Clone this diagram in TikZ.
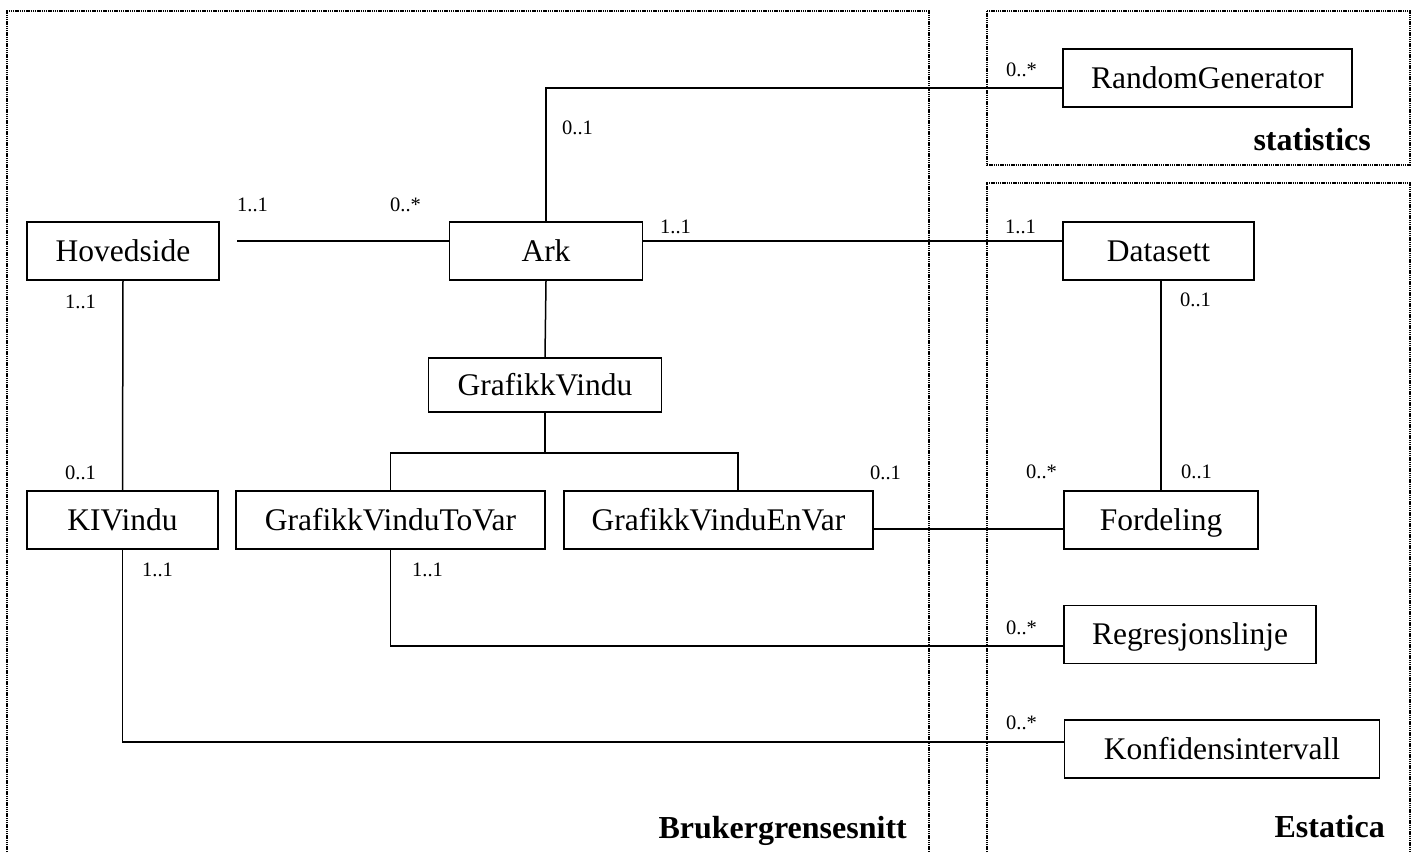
\documentclass[tikz,border=0pt]{standalone}
\usepackage{fontspec}
\setmainfont{Liberation Serif}
\begin{document}
\begin{tikzpicture}[x=1pt,y={(0,-1pt)},
  cls/.style={draw,line width=1.8pt,rectangle,minimum height=58pt,inner sep=0pt,
    text height=27pt,text depth=7pt,font=\fontsize{31.5}{36}\selectfont},
  conn/.style={line width=1.5pt},
  mult/.style={anchor=west,inner sep=0pt,font=\fontsize{20.5}{24}\selectfont},
  pkg/.style={anchor=base east,inner sep=0pt,font=\fontsize{32}{38}\selectfont\bfseries},
  frame/.style={line width=1.3pt,dash pattern=on 1.4pt off 0.8pt}]
\useasboundingbox (0,0) rectangle (1415,852);

% package frames
\draw[frame] (7,852) -- (7,11) -- (929,11) -- (929,852);
\draw[frame] (987,11) rectangle (1410,165);
\draw[frame] (987,852) -- (987,183) -- (1410,183) -- (1410,852);
\node[pkg] (pkgui) at (907,838) {Brukergrensesnitt};
\node[pkg] (pkgstat) at (1371,150) {statistics};
\node[pkg] (pkgest) at (1385,837) {Estatica};

% classes
\node[cls,minimum width=192pt] (hoved) at (123,251) {Hovedside};
\node[cls,minimum width=193pt] (ark) at (546,251) {Ark};
\node[cls,minimum width=233pt,minimum height=54pt] (gv) at (545,385) {GrafikkVindu};
\node[cls,minimum width=191pt] (ki) at (122.5,520) {KIVindu};
\node[cls,minimum width=309pt] (tovar) at (390.5,520) {GrafikkVinduToVar};
\node[cls,minimum width=309pt] (envar) at (718.5,520) {GrafikkVinduEnVar};
\node[cls,minimum width=289pt] (rand) at (1207.5,78) {RandomGenerator};
\node[cls,minimum width=191pt] (data) at (1158.5,251) {Datasett};
\node[cls,minimum width=194pt] (ford) at (1161,520) {Fordeling};
\node[cls,minimum width=252pt] (regr) at (1190,634.5) {Regresjonslinje};
\node[cls,minimum width=315pt] (konf) at (1222,749) {Konfidensintervall};

% line levels
\coordinate (hvend) at (237,241);
\coordinate (randlvl) at (0,88);
\coordinate (fork) at (0,453);
\coordinate (rbranch) at (738,453);
\coordinate (fordlvl) at (0,529);
\coordinate (regrlvl) at (0,646);
\coordinate (konflvl) at (0,742);

% associations
\draw[conn] (hvend) -- (hvend -| ark.west);
\draw[conn] (ark.east |- hvend) -- (data.west |- hvend);
\draw[conn] (ark.north) |- (rand.west |- randlvl);
\draw[conn] (ark.south) -- (gv.north);
\draw[conn] (gv.south) -- (gv.south |- fork);
\draw[conn] (tovar.north) -- (tovar.north |- fork) -- (rbranch) -- (rbranch |- envar.north);
\draw[conn] (envar.east |- fordlvl) -- (ford.west |- fordlvl);
\draw[conn] (ford.north) -- (ford.north |- data.south);
\draw[conn] (hoved.south) -- (ki.north);
\draw[conn] (tovar.south) |- (regr.west |- regrlvl);
\draw[conn] (ki.south) |- (konf.west |- konflvl);

% multiplicities
\node[mult] (m1) at (1006,70) {0..*};
\node[mult] (m2) at (562,128) {0..1};
\node[mult] (m3) at (237,205) {1..1};
\node[mult] (m4) at (390,205) {0..*};
\node[mult] (m5) at (660,227) {1..1};
\node[mult] (m6) at (1005,227) {1..1};
\node[mult] (m7) at (65,302) {1..1};
\node[mult] (m8) at (1180,300) {0..1};
\node[mult] (m9) at (65,473) {0..1};
\node[mult] (m10) at (870,473) {0..1};
\node[mult] (m11) at (1026,472) {0..*};
\node[mult] (m12) at (1181,472) {0..1};
\node[mult] (m13) at (142,570) {1..1};
\node[mult] (m14) at (412,570) {1..1};
\node[mult] (m15) at (1006,628) {0..*};
\node[mult] (m16) at (1006,723) {0..*};
\end{tikzpicture}
\end{document}
